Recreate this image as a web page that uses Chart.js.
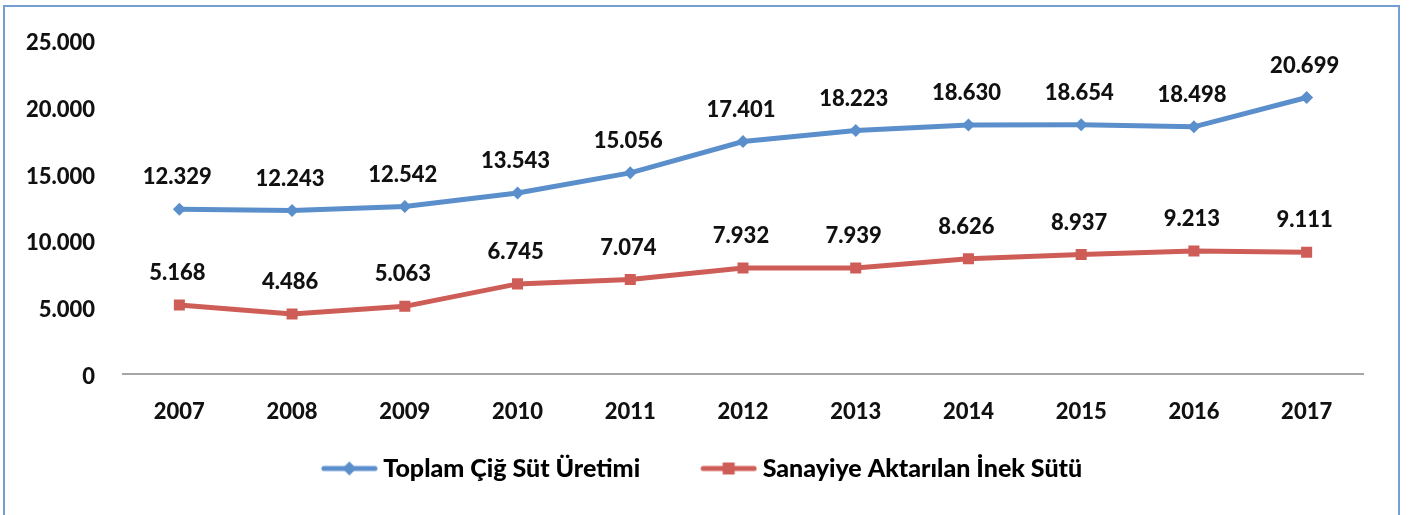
<!DOCTYPE html>
<html>
<head>
<meta charset="utf-8">
<script src="https://cdn.jsdelivr.net/npm/chart.js@4.4.1/dist/chart.umd.min.js"></script>
<style>
  html, body { margin: 0; padding: 0; background: #fff; overflow: hidden; }
  #wrap { position: relative; width: 1411px; height: 515px; }
  #frame { position: absolute; left: 3px; top: 5px; width: 1393px; height: 600px;
           border: 2px solid #739fd3; pointer-events: none; }
  canvas { position: absolute; left: 0; top: 0; }
</style>
</head>
<body>
<div id="wrap">
  <canvas id="c" width="1411" height="515"></canvas>
  <div id="frame"></div>
</div>
<script>
const years = ['2007','2008','2009','2010','2011','2012','2013','2014','2015','2016','2017'];
const totalMilk = [12329,12243,12542,13543,15056,17401,18223,18630,18654,18498,20699];
const industryMilk = [5168,4486,5063,6745,7074,7932,7939,8626,8937,9213,9111];
const seriesNames = ['Toplam Çiğ Süt Üretimi','Sanayiye Aktarılan İnek Sütü'];
const yTicks = [0,5000,10000,15000,20000,25000];

const BLUE = '#5b8fcc';
const RED = '#cf5d57';
const FONT = 'Lato';
const WEIGHT = '900';

function fmt(v){ return String(v).replace(/\B(?=(\d{3})+(?!\d))/g,'.'); }

function legendImg(color, shape){
  const W = 94, H = 16;
  const c = document.createElement('canvas');
  c.width = W; c.height = H;
  const g = c.getContext('2d');
  const x0 = W - 57, x1 = W;
  g.strokeStyle = color; g.lineWidth = 5; g.lineCap = 'round';
  g.beginPath(); g.moveTo(x0+3, H/2); g.lineTo(x1-3, H/2); g.stroke();
  g.fillStyle = color;
  const cx = (x0+x1)/2, cy = H/2;
  g.beginPath();
  if (shape === 'diamond'){
    g.moveTo(cx-7, cy); g.lineTo(cx, cy-7); g.lineTo(cx+7, cy); g.lineTo(cx, cy+7);
  } else {
    g.rect(cx-6, cy-6, 12, 12);
  }
  g.closePath(); g.fill();
  return c;
}

const valueLabels = {
  id: 'valueLabels',
  afterDatasetsDraw(chart){
    const ctx = chart.ctx;
    ctx.save();
    ctx.font = WEIGHT + ' 22px ' + FONT;
    ctx.fillStyle = '#111';
    ctx.textAlign = 'center';
    ctx.textBaseline = 'middle';
    chart.data.datasets.forEach((ds, i) => {
      chart.getDatasetMeta(i).data.forEach((pt, j) => {
        ctx.fillText(fmt(ds.data[j]), pt.x - 2, pt.y - 32);
      });
    });
    ctx.restore();
  }
};

function build(){
  const imgs = [legendImg(BLUE,'diamond'), legendImg(RED,'square')];
  new Chart(document.getElementById('c'), {
    type: 'line',
    data: {
      labels: years,
      datasets: [
        { label: seriesNames[0], data: totalMilk, borderColor: BLUE, backgroundColor: BLUE,
          borderWidth: 5, pointStyle: 'rectRot', pointRadius: 6.5, pointBorderWidth: 0,
          tension: 0, fill: false },
        { label: seriesNames[1], data: industryMilk, borderColor: RED, backgroundColor: RED,
          borderWidth: 5, pointStyle: 'rect', pointRadius: 7.8, pointBorderWidth: 0,
          tension: 0, fill: false }
      ]
    },
    options: {
      responsive: false,
      animation: false,
      devicePixelRatio: 1,
      layout: { padding: { top: 40, right: 48, left: 10, bottom: 24 } },
      plugins: {
        tooltip: { enabled: false },
        legend: {
          position: 'bottom',
          labels: {
            usePointStyle: true,
            pointStyleWidth: 80,
            padding: 30,
            color: '#111',
            font: { family: FONT, size: 25, weight: WEIGHT },
            generateLabels(chart){
              return chart.data.datasets.map((ds, i) => ({
                text: ds.label, pointStyle: imgs[i], fillStyle: ds.borderColor,
                strokeStyle: ds.borderColor, lineWidth: 0, hidden: false, datasetIndex: i
              }));
            }
          }
        }
      },
      scales: {
        x: {
          offset: true,
          grid: { display: false },
          border: { display: true, color: '#a6a6a6', width: 2 },
          ticks: { color: '#111', padding: 17, font: { family: FONT, size: 22, weight: WEIGHT } },
          afterFit(s){ s.height = 52; }
        },
        y: {
          min: 0, max: 25000,
          grid: { display: false },
          border: { display: false },
          afterBuildTicks(s){ s.ticks = yTicks.map(v => ({ value: v })); },
          ticks: { color: '#111', padding: 20, labelOffset: 3,
                   font: { family: FONT, size: 22, weight: WEIGHT },
                   callback: v => fmt(v) },
          afterFit(s){ s.width = 113; }
        }
      }
    },
    plugins: [valueLabels]
  });
}

if (document.fonts && document.fonts.load) {
  Promise.all([document.fonts.load(WEIGHT + ' 22px Lato')]).then(build, build);
} else { build(); }
</script>
</body>
</html>
